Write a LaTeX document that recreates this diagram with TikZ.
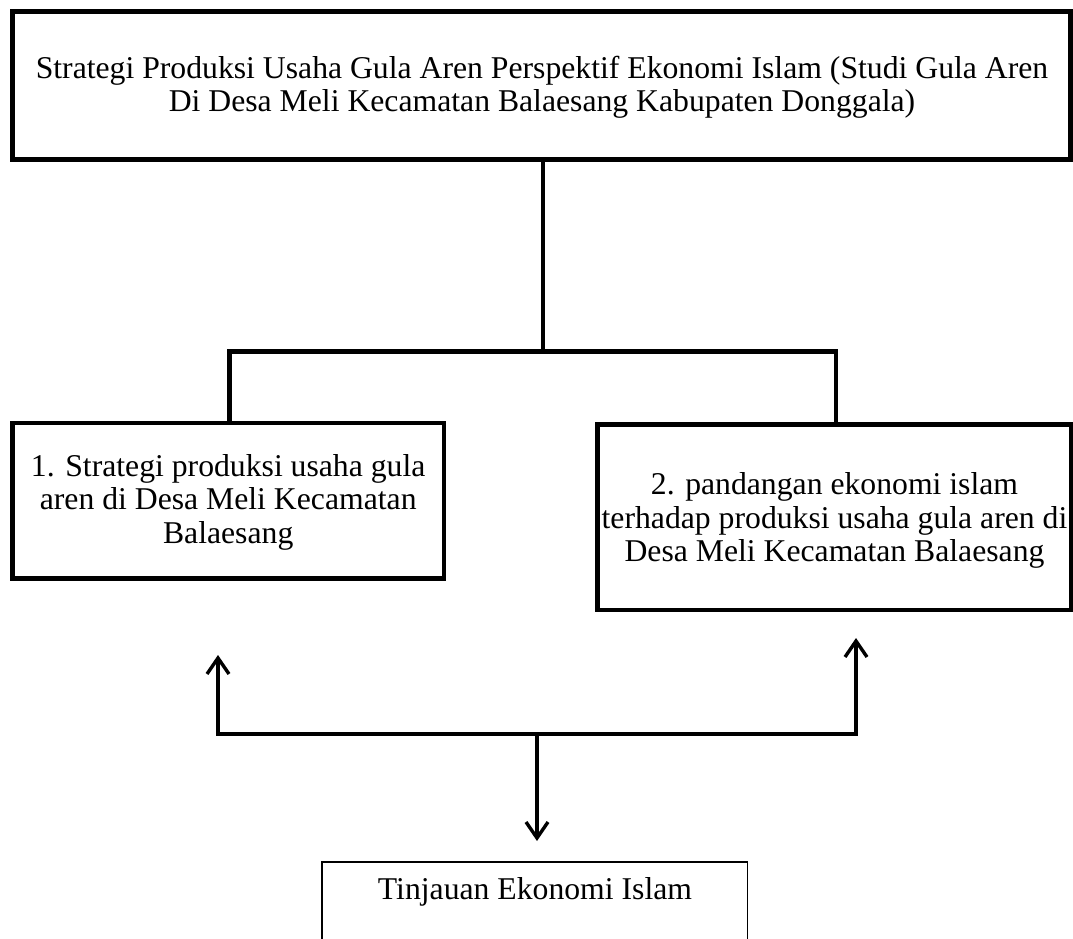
\documentclass[tikz,border=0pt]{standalone}
\usepackage{fontspec}
\setmainfont{Liberation Serif}
\usetikzlibrary{arrows.meta}
\begin{document}
\begin{tikzpicture}[x=1pt,y=-1pt,
  box/.style={draw, line width=4.6pt, rectangle, inner sep=0pt},
  thinbox/.style={draw, line width=1.4pt, rectangle, inner sep=0pt},
  lbl/.style={font=\fontsize{31.7}{33.3}\selectfont, align=center, inner sep=0pt, anchor=base},
  conn/.style={line width=4.6pt},
  arr/.style={line width=3.4pt},
  tip/.tip={Straight Barb[length=16pt,width=22pt,line width=3.4pt]}]
\useasboundingbox (0,0) rectangle (1073,939);
\clip (0,0) rectangle (1073,939);
% boxes
\node[box, minimum width=1058pt, minimum height=148.4pt] (top) at (541.5,85.5) {};
\node[box, minimum width=431.3pt, minimum height=155.7pt] (left) at (228.2,500.7) {};
\node[box, minimum width=473.8pt, minimum height=185.3pt] (right) at (834.1,517.4) {};
\node[thinbox, minimum width=425.3pt, minimum height=200pt, anchor=north] (bot) at (534.7,861.3) {};
% texts (base anchor = baseline of the last line)
\node[lbl] (toptxt) at (542,111.7) {Strategi Produksi Usaha Gula Aren Perspektif Ekonomi Islam (Studi Gula Aren\\Di Desa Meli Kecamatan Balaesang Kabupaten Donggala)};
\node[lbl] (lefttxt) at (228.2,543) {1. Strategi produksi usaha gula\\aren di Desa Meli Kecamatan\\Balaesang};
\node[lbl] (righttxt) at (834.5,561.5) {2. pandangan ekonomi islam\\terhadap produksi usaha gula aren di\\Desa Meli Kecamatan Balaesang};
\node[lbl] (bottxt) at (535,899) {Tinjauan Ekonomi Islam};
% tree connectors
\coordinate (j) at (542.8,351.7);
\coordinate (jl) at (229.2,351.7);
\coordinate (jr) at (836,351.7);
\draw[conn] (top.south -| j) -- (j);
\draw[conn] (jl |- left.north) -- (jl) -- (jr) -- (jr |- right.north);
% arrows
\coordinate (al) at (218,734);
\coordinate (ar) at (856,734);
\coordinate (am) at (537,734);
\coordinate (tl) at (218,655);
\coordinate (tr) at (856,638);
\coordinate (tb) at (537,841);
\draw[arr, tip-tip] (tl) -- (al) -- (ar) -- (tr);
\draw[arr, -tip] (am) -- (tb);
\end{tikzpicture}
\end{document}
